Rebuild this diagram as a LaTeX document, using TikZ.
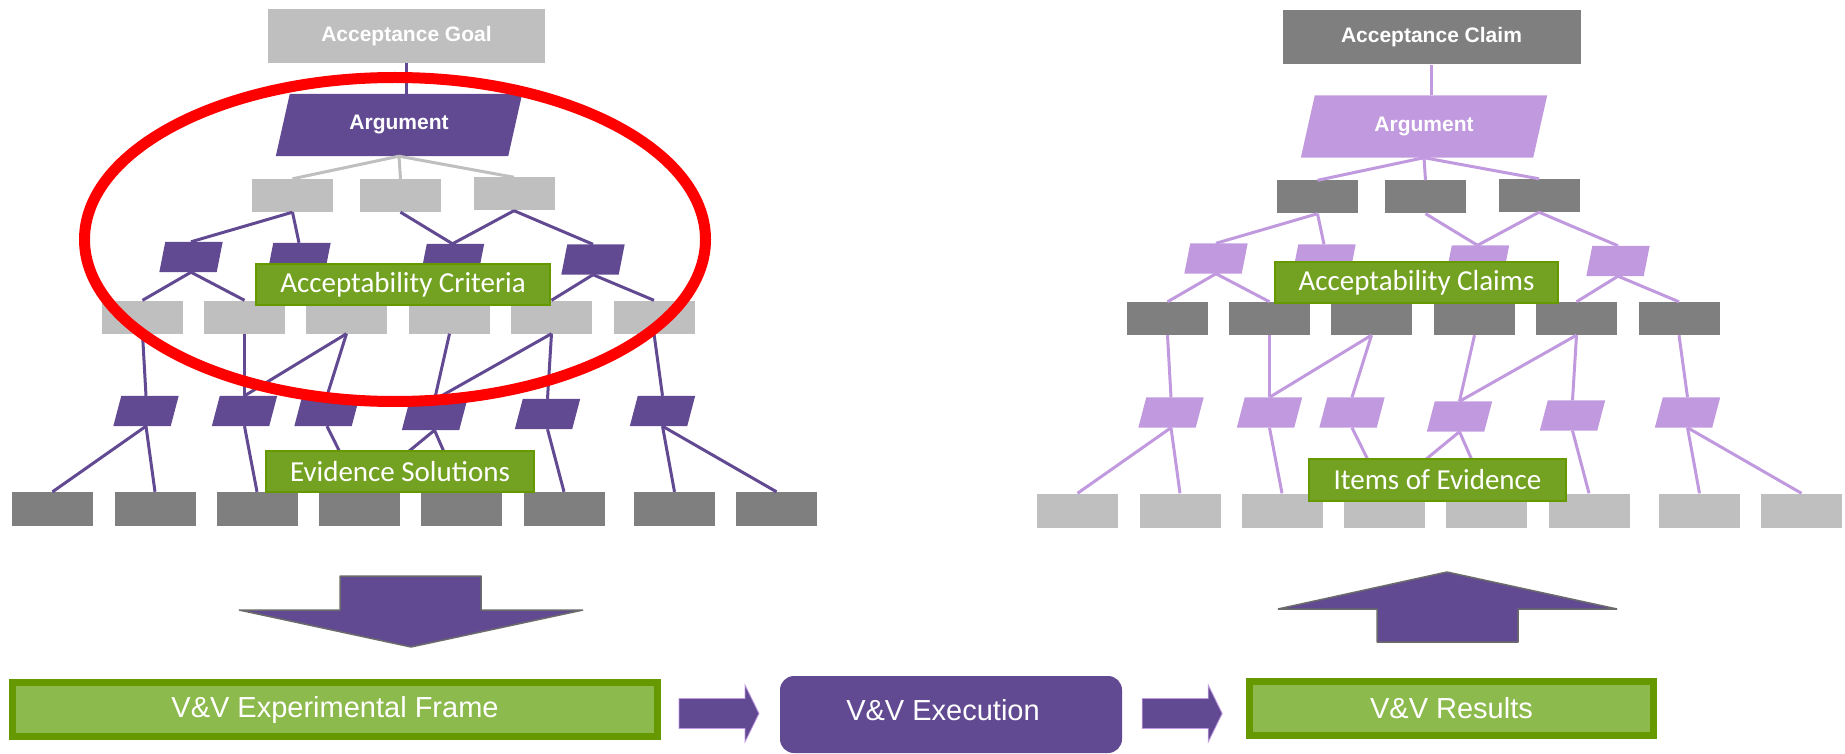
\documentclass[tikz,border=0pt]{standalone}
\usepackage{fontspec}
\setmainfont{Liberation Sans}
\newfontfamily\tagfont{Carlito}
\usetikzlibrary{calc}

\definecolor{purpdark}{HTML}{624A92}
\definecolor{purplight}{HTML}{C099DE}
\definecolor{greylight}{HTML}{BFBFBF}
\definecolor{greydark}{HTML}{7F7F7F}
\definecolor{leaf}{HTML}{669900}
\definecolor{leafmid}{HTML}{73A222}
\definecolor{leaflight}{HTML}{8CBA4C}
\definecolor{rim}{HTML}{6B6B6B}

\newcommand{\topfont}{\fontsize{21}{25}\selectfont\bfseries}
\newcommand{\flowfont}{\fontsize{29}{33}\selectfont}

\tikzset{
  box/.style={rectangle, inner sep=0pt, minimum width=81pt, minimum height=33pt},
  slot/.style={rectangle, inner sep=0pt, minimum width=57pt, minimum height=30pt},
  link/.style={line width=3pt},
  tag/.style={rectangle, inner sep=0pt, minimum height=41pt, fill=leafmid, draw=leaf,
    line width=2.5pt, text=white, font={\tagfont\fontsize{29}{33}\selectfont}},
  frame/.style={rectangle, inner sep=0pt, fill=leaflight, draw=leaf, line width=7pt,
    text=white, font=\flowfont},
  bigarrow/.style={fill=purpdark, draw=rim, line width=1.5pt, line join=bevel},
  flowarrow/.pic={\fill[purpdark, draw=purplight, line width=.8pt]
    (0,-15) -- (66,-15) -- (66,-28.5) -- (80,0) -- (66,28.5) -- (66,15) -- (0,15) -- cycle;}
}

% slanted fill over a named node: node, colour, skew
\newcommand{\slantfill}[3]{%
  \fill[#2] ([xshift=#3pt]#1.north west) -- ([xshift=#3pt]#1.north east)
    -- ([xshift=-#3pt]#1.south east) -- ([xshift=-#3pt]#1.south west) -- cycle;}

% one argument tree: prefix, top text, top width
\newcommand{\gsntree}[3]{%
  \node[fill=topc, inner sep=0pt, minimum width=#3pt, minimum height=54pt,
    text=white, font=\topfont] (#1goal) at (406.5,36) {#2};
  \node[rectangle, inner sep=0pt, minimum width=232pt, minimum height=62pt] (#1arg) at (399,125) {};
  \slantfill{#1arg}{argc}{7}
  \node[text=white, font=\topfont] at (#1arg) {Argument};
  \draw[link, argc] (#1goal.south) -- (#1goal.south |- #1arg.north);
  \foreach \n/\x/\y in {1/292.5/195.5, 2/400.5/195.5, 3/514/194}
    \node[box, fill=midc] (#1b\n) at (\x,\y) {};
  \foreach \n in {1,2,3}
    \draw[link, joinc] (#1arg.south) -- (#1b\n.north);
  \foreach \n/\x/\y in {1/191/257, 2/299/258, 3/452.5/259, 4/593/259.5}
    {\node[slot] (#1p\n) at (\x,\y) {}; \slantfill{#1p\n}{argc}{3}}
  \foreach \a/\b in {1/1, 1/2, 2/3, 3/3, 3/4}
    \draw[link, argc] (#1b\a.south) -- (#1p\b.north);
  \foreach \n/\x in {1/142.5, 2/244.5, 3/346.5, 4/449.5, 5/551.5, 6/654}
    \node[box, fill=midc] (#1c\n) at (\x,317) {};
  \foreach \a/\b in {1/1, 1/2, 4/5, 4/6}
    \draw[link, argc] (#1p\a.south) -- (#1c\b.north);
  \foreach \n/\x/\y in {1/146/411, 2/244.5/411, 3/327/411, 4/434.5/415, 5/547.5/414, 6/662.5/411}
    {\node[slot] (#1q\n) at (\x,\y) {}; \slantfill{#1q\n}{argc}{4}}
  \foreach \a/\b in {1/1, 2/2, 3/2, 3/3, 4/4, 5/4, 5/5, 6/6}
    \draw[link, argc] (#1c\a.south) -- (#1q\b.north);
  \foreach \n/\x in {1/52.5, 2/155, 3/257, 4/359.5, 5/461.5, 6/564, 7/674.5, 8/776.5}
    \node[box, minimum height=34pt, fill=botc] (#1e\n) at (\x,509) {};
  \foreach \a/\b in {1/1, 1/2, 2/3, 3/4, 4/4, 4/5, 5/6, 6/7, 6/8}
    \draw[link, argc] (#1q\a.south) -- (#1e\b.north);
}

\begin{document}
\begin{tikzpicture}[x=1pt, y=-1pt]
\useasboundingbox (0,0) rectangle (1845,754);

\colorlet{topc}{greylight}\colorlet{argc}{purpdark}\colorlet{joinc}{greylight}
\colorlet{midc}{greylight}\colorlet{botc}{greydark}
\gsntree{L}{Acceptance Goal}{277}

\begin{scope}[xshift=1025pt, yshift=-1.5pt]
  \colorlet{topc}{greydark}\colorlet{argc}{purplight}\colorlet{joinc}{purplight}
  \colorlet{midc}{greydark}\colorlet{botc}{greylight}
  \gsntree{R}{Acceptance Claim}{298}
\end{scope}

\node[tag, minimum width=294pt] (critL) at (403,284.5) {Acceptability Criteria};
\node[tag, minimum width=268pt] (evidL) at (400,471.5) {Evidence Solutions};
\node[tag, minimum width=283pt] (claimsR) at (1416.5,282.5) {Acceptability Claims};
\node[tag, minimum width=257pt, minimum height=42pt] (itemsR) at (1437.5,480) {Items of Evidence};

\draw[red, line width=11pt] (395,239.5) ellipse [x radius=310.5pt, y radius=162pt];

%% V&V flow along the bottom
\draw[bigarrow] (340,576) -- (481,576) -- (481,610) -- (583,610)
  -- (411,647) -- (239,610) -- (340,610) -- cycle;
\draw[bigarrow] (1377,642) -- (1518,642) -- (1518,609) -- (1617,609)
  -- (1447,572) -- (1278,609) -- (1377,609) -- cycle;

\node[frame, minimum width=645pt, minimum height=54pt] (expframe) at (335,709.5) {V\&V Experimental Frame};
\node[fill=purpdark, rounded corners=14pt, inner sep=0pt, minimum width=342pt, minimum height=77pt] (exec) at (951,714.5) {};
\node[text=white, font=\flowfont] at ([xshift=-8pt, yshift=4pt]exec.center) {V\&V Execution};
\node[frame, minimum width=404pt, minimum height=54pt] (results) at (1451.5,708.5) {V\&V Results};

\path (expframe.east) ++(18,0) coordinate (fa);
\path (exec.east) ++(20,0) coordinate (fb);
\pic at ($(fa |- exec.west)+(0,-1)$) {flowarrow};
\pic at ($(fb |- exec.east)+(0,-1)$) {flowarrow};
\end{tikzpicture}
\end{document}
